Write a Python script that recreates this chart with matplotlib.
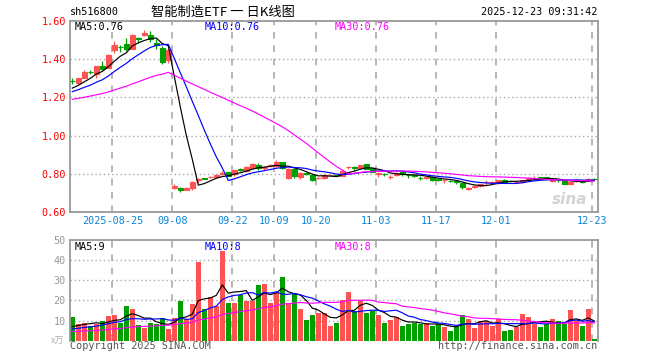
import numpy as np
import pandas as pd
import matplotlib
matplotlib.use("Agg")
import matplotlib.pyplot as plt

W, H = 660, 360
RED = "#ff5353"
GREEN = "#00a000"
GRID = "#aaaaaa"
FRAME = "#999999"
MONO = "DejaVu Sans Mono"
CJK = ["Noto Sans CJK SC", "DejaVu Sans"]

# daily candles 2025-08-14 .. 2025-12-23 (index 0..87)
opens = [1.286, 1.277, 1.302, 1.334, 1.323, 1.365, 1.354, 1.449, 1.465, 1.482,
         1.456, 1.510, 1.530, 1.530, 1.488, 1.458, 1.396, 0.727, 0.726, 0.716,
         0.723, 0.766, 0.776, 0.780, 0.783, 0.798, 0.807, 0.797, 0.822, 0.814,
         0.832, 0.846, 0.830, 0.840, 0.842, 0.860, 0.779, 0.825, 0.783, 0.801,
         0.793, 0.777, 0.779, 0.792, 0.791, 0.790, 0.833, 0.834, 0.828, 0.849,
         0.828, 0.799, 0.798, 0.782, 0.793, 0.807, 0.794, 0.791, 0.778, 0.778,
         0.783, 0.770, 0.764, 0.763, 0.759, 0.751, 0.720, 0.732, 0.736, 0.754,
         0.752, 0.749, 0.768, 0.762, 0.756, 0.757, 0.772, 0.776, 0.781, 0.782,
         0.763, 0.766, 0.760, 0.748, 0.760, 0.760, 0.768, 0.772]
highs = [1.302, 1.304, 1.342, 1.342, 1.367, 1.391, 1.428, 1.495, 1.474, 1.512,
         1.535, 1.517, 1.556, 1.551, 1.504, 1.468, 1.458, 0.744, 0.731, 0.728,
         0.762, 0.779, 0.779, 0.788, 0.800, 0.812, 0.811, 0.821, 0.828, 0.839,
         0.856, 0.856, 0.842, 0.853, 0.874, 0.863, 0.828, 0.828, 0.807, 0.807,
         0.797, 0.783, 0.800, 0.798, 0.795, 0.818, 0.842, 0.842, 0.846, 0.851,
         0.830, 0.807, 0.804, 0.793, 0.807, 0.811, 0.800, 0.797, 0.786, 0.788,
         0.786, 0.776, 0.772, 0.769, 0.769, 0.755, 0.728, 0.740, 0.747, 0.769,
         0.760, 0.768, 0.770, 0.767, 0.762, 0.768, 0.780, 0.786, 0.783, 0.784,
         0.770, 0.770, 0.762, 0.762, 0.768, 0.764, 0.776, 0.778]
lows = [1.270, 1.272, 1.300, 1.321, 1.302, 1.346, 1.352, 1.433, 1.437, 1.442,
        1.454, 1.486, 1.523, 1.491, 1.456, 1.375, 1.382, 0.719, 0.702, 0.712,
        0.716, 0.752, 0.770, 0.775, 0.780, 0.791, 0.786, 0.790, 0.814, 0.811,
        0.828, 0.821, 0.818, 0.835, 0.835, 0.825, 0.774, 0.779, 0.772, 0.793,
        0.761, 0.772, 0.772, 0.788, 0.786, 0.786, 0.825, 0.821, 0.826, 0.825,
        0.811, 0.782, 0.786, 0.770, 0.790, 0.790, 0.779, 0.783, 0.767, 0.772,
        0.762, 0.760, 0.751, 0.755, 0.748, 0.720, 0.712, 0.726, 0.730, 0.741,
        0.748, 0.746, 0.755, 0.755, 0.751, 0.753, 0.766, 0.770, 0.772, 0.775,
        0.755, 0.758, 0.745, 0.745, 0.754, 0.752, 0.762, 0.766]
closes = [1.284, 1.302, 1.333, 1.331, 1.365, 1.351, 1.425, 1.477, 1.462, 1.456,
          1.530, 1.507, 1.539, 1.509, 1.474, 1.385, 1.449, 0.733, 0.712, 0.724,
          0.758, 0.770, 0.774, 0.783, 0.793, 0.802, 0.790, 0.818, 0.820, 0.835,
          0.853, 0.828, 0.833, 0.843, 0.860, 0.832, 0.826, 0.790, 0.803, 0.800,
          0.768, 0.779, 0.793, 0.794, 0.789, 0.814, 0.835, 0.832, 0.846, 0.825,
          0.811, 0.801, 0.796, 0.784, 0.803, 0.797, 0.792, 0.789, 0.776, 0.781,
          0.769, 0.768, 0.766, 0.761, 0.757, 0.730, 0.722, 0.734, 0.744, 0.756,
          0.755, 0.766, 0.758, 0.760, 0.758, 0.766, 0.776, 0.779, 0.774, 0.776,
          0.765, 0.764, 0.748, 0.758, 0.764, 0.757, 0.771, 0.770]
# volume, in 10k lots (万)
volumes = [11.8, 8.3, 8.8, 7.3, 8.3, 9.8, 12.3, 12.8, 8.8, 17.3,
           15.8, 7.8, 6.3, 8.8, 8.3, 11.3, 5.8, 11.3, 19.8, 10.8,
           18.3, 39.3, 15.8, 21.8, 17.3, 44.3, 18.8, 18.8, 22.8, 19.8,
           19.8, 27.8, 28.3, 18.8, 23.8, 31.8, 18.8, 23.3, 15.8, 10.3,
           12.8, 13.8, 13.8, 7.3, 8.8, 20.3, 24.3, 14.8, 19.8, 13.8,
           14.8, 12.8, 8.8, 10.3, 11.8, 7.3, 8.3, 8.8, 8.3, 8.8,
           7.3, 8.3, 6.8, 4.8, 7.3, 12.8, 10.8, 6.3, 9.8, 9.8,
           7.3, 10.8, 4.8, 5.3, 6.8, 13.3, 11.8, 8.3, 6.8, 8.3,
           10.8, 9.8, 8.3, 15.3, 9.8, 7.3, 15.8, 0.8]

# sessions before the window, only used to start the moving averages
hist_close = [1.15, 1.16, 1.15, 1.16, 1.17, 1.16, 1.17, 1.16, 1.17, 1.16,
              1.17, 1.18, 1.17, 1.18, 1.17, 1.18, 1.18, 1.19, 1.18, 1.19,
              1.20, 1.21, 1.22, 1.21, 1.22, 1.23, 1.24, 1.24, 1.25]
hist_vol = [3.5, 4.0, 3.8, 4.2, 3.6, 3.9, 4.1, 3.7, 3.5, 4.0,
            3.8, 3.6, 4.2, 3.9, 3.7, 4.0, 3.8, 4.1, 3.9, 3.8,
            4.5, 4.8, 4.2, 4.9, 4.6, 5.5, 6.0, 5.6, 6.1]

tick_pos = [7, 17, 27, 34, 41, 51, 61, 71, 87]
tick_labels = ["2025-08-25", "09-08", "09-22", "10-09", "10-20",
               "11-03", "11-17", "12-01", "12-23"]
price_ticks = [0.60, 0.80, 1.00, 1.20, 1.40, 1.60]
vol_ticks = [10, 20, 30, 40, 50]

ma_windows = [5, 10, 30]
ma_colors = ["black", "#0000ff", "#ff00ff"]
price_ma_text = ["MA5:0.76", "MA10:0.76", "MA30:0.76"]
vol_ma_text = ["MA5:9", "MA10:8", "MA30:8"]

n = len(closes)
x = np.arange(n)
o = np.array(opens); c = np.array(closes)
hi = np.array(highs); lo = np.array(lows)
vol = np.array(volumes)
up = c >= o
cols = np.where(up, RED, GREEN)

all_close = pd.Series(hist_close + closes)
all_vol = pd.Series(hist_vol + volumes)
k = len(hist_close)

fig = plt.figure(figsize=(W / 100, H / 100), dpi=100)


def px_axes(l, t, r, b):
    return fig.add_axes([l / W, 1 - b / H, (r - l) / W, (b - t) / H])


xlim = (-0.383, 87.57)
grid_x = [p - 0.33 for p in tick_pos]

# ---- price panel
ax = px_axes(70, 20.5, 597.7, 211.7)
ax.set_xlim(*xlim)
ax.set_ylim(0.60, 1.6037)
for gy in price_ticks[1:-1]:
    ax.axhline(gy, color=GRID, lw=1, ls=(0, (1, 2)), zorder=0)
for gx in grid_x:
    ax.axvline(gx, color=GRID, lw=1.2, ls=(0, (4, 4)), zorder=0)

ax.vlines(x, lo, hi, colors=cols, lw=0.9, zorder=2)
body_lo = np.minimum(o, c)
body_h = np.abs(c - o)
ax.bar(x, body_h, bottom=body_lo, width=0.74, color=cols, edgecolor=cols,
       linewidth=0.8, zorder=3)

for w, col in zip(ma_windows, ma_colors):
    ma = all_close.rolling(w).mean().values[k:]
    ax.plot(x, ma, color=col, lw=0.85, zorder=4)

ax.set_yticks(price_ticks)
ax.set_yticklabels(["%.2f" % v for v in price_ticks], color="#ff0000",
                   fontfamily=MONO, fontsize=7.3)
ax.set_xticks(grid_x)
ax.set_xticklabels(tick_labels, color="#0a84d8", fontfamily=MONO, fontsize=7.3)
ax.tick_params(length=0, pad=3)
for s in ax.spines.values():
    s.set_color(FRAME)
    s.set_linewidth(1.3)

# ---- volume panel
av = px_axes(70, 240, 597.7, 340.7)
av.set_xlim(*xlim)
av.set_ylim(0, 50)
for gy in vol_ticks[:-1]:
    av.axhline(gy, color=GRID, lw=1, ls=(0, (1, 2)), zorder=0)
for gx in grid_x:
    av.axvline(gx, color=GRID, lw=1.2, ls=(0, (4, 4)), zorder=0)
av.bar(x, vol, width=0.78, color=cols, linewidth=0, zorder=2)
for w, col in zip(ma_windows, ma_colors):
    ma = all_vol.rolling(w).mean().values[k:]
    av.plot(x, ma, color=col, lw=0.85, zorder=4)
av.set_yticks(vol_ticks)
av.set_yticklabels([str(v) for v in vol_ticks], color="#999999",
                   fontfamily=MONO, fontsize=7.3)
av.set_xticks([])
av.tick_params(length=0, pad=3)
for name, s in av.spines.items():
    s.set_color(FRAME)
    s.set_linewidth(1.3)
av.spines["bottom"].set_visible(False)

# ---- texts


def ftext(px, py, s, **kw):
    fig.text(px / W, 1 - py / H, s, va="center", **kw)


ftext(70, 12, "sh516800", fontfamily=MONO, fontsize=7.3, color="black")
ftext(223, 12, "智能制造ETF 一 日K线图", family=CJK, fontsize=9.5,
      color="black", ha="center")
ftext(597, 12, "2025-12-23 09:31:42", fontfamily=MONO, fontsize=7.3,
      color="black", ha="right")
for px, s, col in zip([75, 205, 335], price_ma_text, ma_colors):
    ftext(px, 27, s, fontfamily=MONO, fontsize=7.3, color=col)
for px, s, col in zip([75, 205, 335], vol_ma_text, ma_colors):
    ftext(px, 247, s, fontfamily=MONO, fontsize=7.3, color=col)
ftext(64, 341, "x万", family=CJK, fontsize=6.5, color="#b0b0b0", ha="right")
ftext(70, 346, "Copyright 2025 SINA.COM", fontfamily=MONO, fontsize=7.3,
      color="#555555")
ftext(597, 346, "http://finance.sina.com.cn", fontfamily=MONO, fontsize=7.3,
      color="#555555", ha="right")
ftext(570, 200, "sina", fontfamily="DejaVu Sans", fontsize=11, color="#c8c8c8",
      style="italic", weight="bold", ha="center", alpha=0.8)

fig.savefig("out.png", dpi=100)
